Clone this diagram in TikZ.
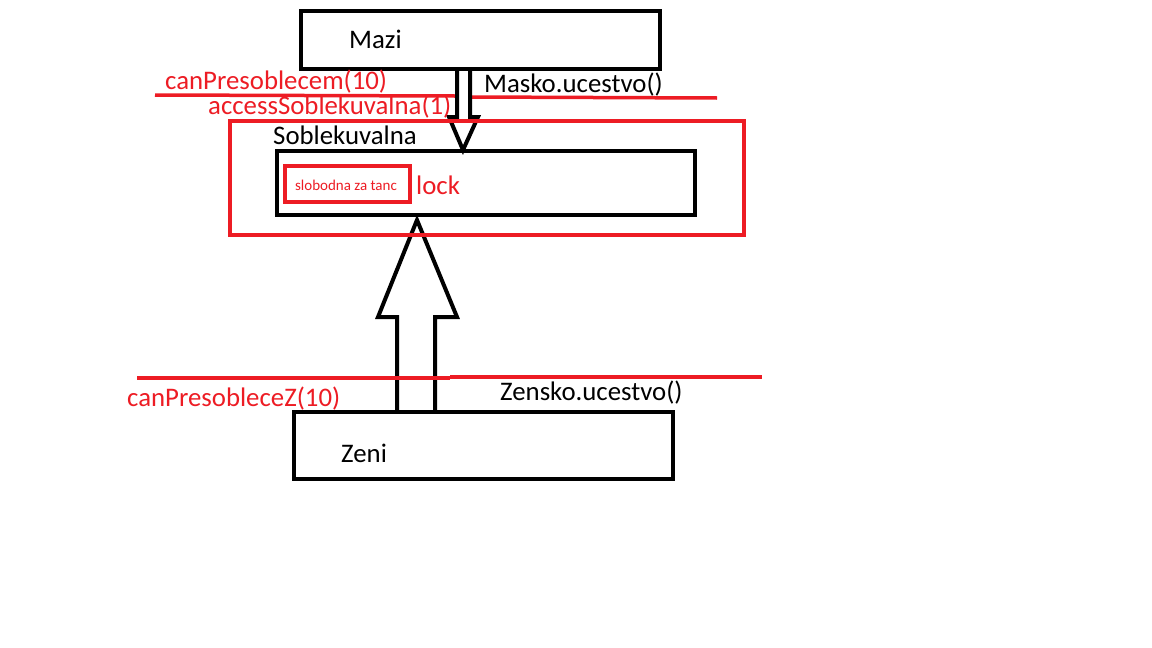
\documentclass[tikz,border=0pt]{standalone}
\usepackage{fontspec}
\setmainfont{Carlito}
\definecolor{pred}{RGB}{237,28,36}
\begin{document}
\begin{tikzpicture}[x=1pt,y=-1pt,
  blk/.style={draw=black,line width=4pt},
  redbox/.style={draw=pred,line width=4pt},
  redline/.style={draw=pred,line width=3.5pt},
  lbl/.style={inner sep=0pt,anchor=west,font=\fontsize{26.8}{30}\selectfont},
  rlbl/.style={lbl,text=pred}]
\useasboundingbox[fill=white] (0,0) rectangle (1152,648);
% red line at top
\draw[redline] (155,95) -- (455,96);
\draw[redline] (470,97) -- (717,98);
% arrows
\draw[blk,fill=white,line join=miter] (457,69) -- (457,117) -- (449,117) -- (463,150) -- (478,117) -- (470,117) -- (470,69);
\draw[blk,fill=white,line join=miter] (397,412) -- (397,317) -- (378,317) -- (417,220) -- (457,317) -- (435,317) -- (435,412);
% boxes
\node[blk,minimum width=359pt,minimum height=58pt,inner sep=0pt] (mazi) at (480.5,40) {};
\node[lbl] (mazit) at (349,39) {Mazi};
\node[redbox,minimum width=514pt,minimum height=114pt,inner sep=0pt] (sob) at (487,178) {};
\node[lbl] (sobt) at (273,135) {Soblekuvalna};
\node[blk,minimum width=418pt,minimum height=64pt,inner sep=0pt] (inner) at (486,183) {};
\node[redbox,minimum width=125pt,minimum height=36pt,inner sep=0pt] (free) at (347.5,184) {};
\node[inner sep=0pt,text=pred,font=\fontsize{15}{17}\selectfont] (freet) at (346,185) {slobodna za tanc};
\node[rlbl] (lock) at (416,185) {lock};
\node[blk,minimum width=379pt,minimum height=67pt,inner sep=0pt] (zeni) at (483.5,445.5) {};
\node[lbl] (zenit) at (341,453) {Zeni};
% red line bottom
\draw[redline] (137,378) -- (450,378);
\draw[redline] (450,377) -- (762,377);
% labels
\node[rlbl] (canm) at (165,82) {canPresoblecem(10)};
\node[rlbl] (acc) at (208,107) {accessSoblekuvalna(1)};
\node[lbl] (masko) at (484,85) {Masko.ucestvo()};
\node[rlbl] (canz) at (127,399) {canPresobleceZ(10)};
\node[lbl] (zensko) at (500,393) {Zensko.ucestvo()};
\end{tikzpicture}
\end{document}
